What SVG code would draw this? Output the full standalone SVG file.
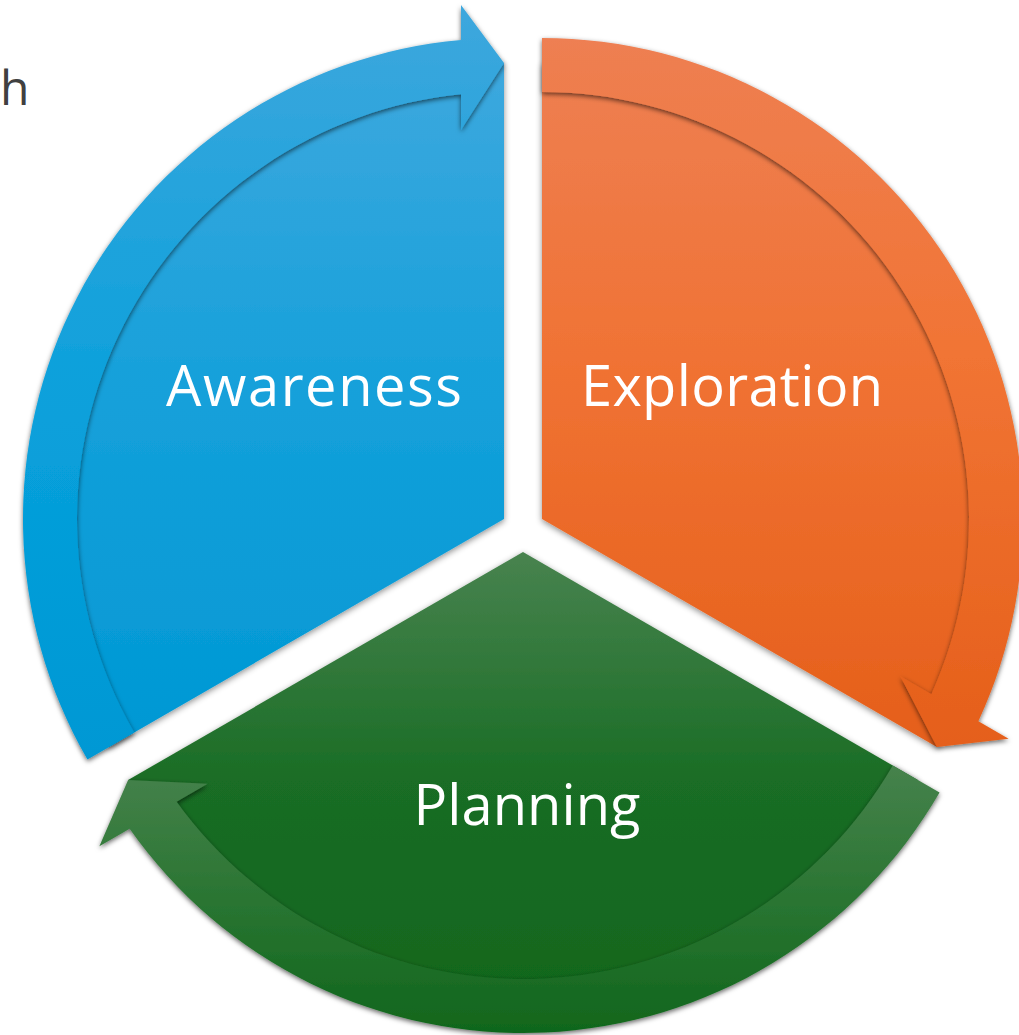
<svg xmlns="http://www.w3.org/2000/svg" width="1019" height="1035" viewBox="0 0 1019 1035">
<defs>
<style>
.lbl{font-family:"Open Sans","Liberation Sans",sans-serif;font-size:56px;fill:#ffffff;text-anchor:middle}
.frag{font-family:"Open Sans","Liberation Sans",sans-serif;font-size:48px;fill:#404040}
</style>
<filter id="sh" x="-10%" y="-10%" width="120%" height="120%">
<feDropShadow dx="0" dy="2" stdDeviation="3" flood-color="#000000" flood-opacity="0.45"/>
</filter>
<filter id="shb" x="-10%" y="-10%" width="120%" height="120%">
<feDropShadow dx="0" dy="2" stdDeviation="2.5" flood-color="#000000" flood-opacity="0.6"/>
</filter>
<linearGradient id="gBp" x1="0" y1="0" x2="0" y2="1"><stop offset="0" stop-color="#3DA8DE"/><stop offset="0.5" stop-color="#14A0DA"/><stop offset="1" stop-color="#0098D4"/></linearGradient>
<linearGradient id="gBb" x1="0" y1="0" x2="0" y2="1"><stop offset="0" stop-color="#3EA7DD"/><stop offset="0.55" stop-color="#08A0DB"/><stop offset="1" stop-color="#0098D4"/></linearGradient>
<linearGradient id="gOp" x1="0" y1="0" x2="0" y2="1"><stop offset="0" stop-color="#EE7F52"/><stop offset="0.45" stop-color="#F07233"/><stop offset="1" stop-color="#E55F1A"/></linearGradient>
<linearGradient id="gOb" x1="0" y1="0" x2="0" y2="1"><stop offset="0" stop-color="#EE7F52"/><stop offset="0.45" stop-color="#F17434"/><stop offset="1" stop-color="#E55F1A"/></linearGradient>
<linearGradient id="gGp" x1="0" y1="0" x2="0" y2="1"><stop offset="0" stop-color="#48834F"/><stop offset="0.5" stop-color="#1A6D25"/><stop offset="1" stop-color="#10661D"/></linearGradient>
<linearGradient id="gGb" x1="0" y1="0" x2="0" y2="1"><stop offset="0" stop-color="#46824C"/><stop offset="0.5" stop-color="#2A7532"/><stop offset="1" stop-color="#10661C"/></linearGradient>
</defs>
<rect width="1019" height="1035" fill="#ffffff"/>
<text class="frag" x="0" y="105">h</text>
<g id="awareness">
<path filter="url(#sh)" fill="url(#gBp)" d="M504,519 L109.1,747 A456,456 0 0 1 504,63 Z"/>
<path filter="url(#shb)" fill="url(#gBb)" d="M134.21,732.5 L87.44,759.5 A481,481 0 0 1 461,39.93 L461,5 L504,63 L461,130 L461,94.17 A427,427 0 0 0 134.21,732.5 Z"/>
<text class="lbl" x="314" y="406" textLength="296">Awareness</text>
</g>
<g id="exploration">
<path filter="url(#sh)" fill="url(#gOp)" d="M542,519 L542,63 A456,456 0 0 1 936.9,747 Z"/>
<path filter="url(#shb)" fill="url(#gOb)" d="M542,92 L542,38 A481,481 0 0 1 978.37,721.3 L1008.62,738.76 L936.9,747 L900.37,676.26 L931.4,694.18 A427,427 0 0 0 542,92 Z"/>
<text class="lbl" x="732" y="406" textLength="302">Exploration</text>
</g>
<g id="planning">
<path filter="url(#sh)" fill="url(#gGp)" d="M523,552 L917.9,780 A456,456 0 0 1 128.1,780 Z"/>
<path filter="url(#shb)" fill="url(#gGb)" d="M892.79,765.49 L939.55,792.49 A481,481 0 0 1 129.63,828.78 L99.38,846.24 L128.1,780 L207.63,783.74 L176.6,801.66 A427,427 0 0 0 892.79,765.49 Z"/>
<text class="lbl" x="527" y="825" textLength="227">Planning</text>
</g>
<g id="connectors"></g>
</svg>
